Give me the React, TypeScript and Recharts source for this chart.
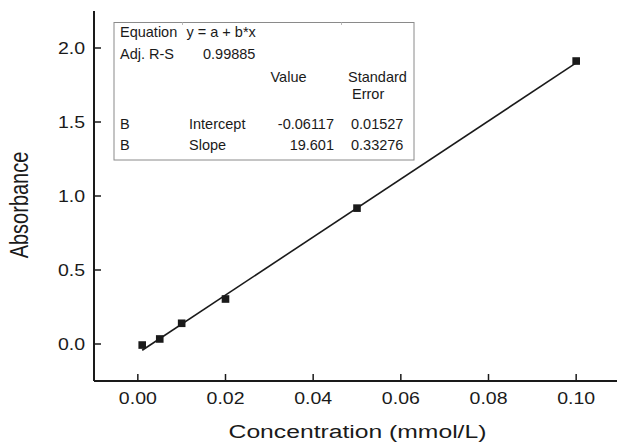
import React from 'react';
import { ComposedChart, Scatter, Line, XAxis, YAxis, ZAxis, Customized } from 'recharts';

// ---- data ----
const concentration = [0.001, 0.005, 0.01, 0.02, 0.05, 0.1];
const absorbance = [-0.007, 0.034, 0.14, 0.304, 0.918, 1.912];
const fitX = [0.001, 0.1];
const fitY = [-0.042, 1.899];
const xTicks = [0, 0.02, 0.04, 0.06, 0.08, 0.1];
const yTicks = [0, 0.5, 1.0, 1.5, 2.0];
const xDomain = [-0.01, 0.11];
const yDomain = [-0.25, 2.25];

const xTitle = 'Concentration (mmol/L)';
const yTitle = 'Absorbance';
const equationLabel = 'Equation';
const equationText = 'y = a + b*x';
const adjLabel = 'Adj. R-S';
const adjValue = '0.99885';
const valueHeader = 'Value';
const errorHeader = ['Standard', 'Error'];
const paramGroup = ['B', 'B'];
const paramNames = ['Intercept', 'Slope'];
const paramValues = ['-0.06117', '19.601'];
const paramErrors = ['0.01527', '0.33276'];

const points = concentration.map((x, i) => ({ x, y: absorbance[i] }));
const fitLine = fitX.map((x, i) => ({ x, y: fitY[i] }));

const FONT = '"Liberation Sans", Arial, Helvetica, sans-serif';
const INK = '#1a1a1a';
const STRETCH = 1.22;

const XTick = (props: any) => {
  const { x, y, payload } = props;
  return (
    <g transform={`translate(${x},${y + 22.7}) scale(${STRETCH},1)`}>
      <text x={0} y={0} textAnchor="middle" fontSize={16} fill={INK} fontFamily={FONT}>
        {Number(payload.value).toFixed(2)}
      </text>
    </g>
  );
};

const YTick = (props: any) => {
  const { x, y, payload } = props;
  return (
    <g transform={`translate(${x - 9},${y + 5.8}) scale(${STRETCH},1)`}>
      <text x={0} y={0} textAnchor="end" fontSize={16} fill={INK} fontFamily={FONT}>
        {Number(payload.value).toFixed(1)}
      </text>
    </g>
  );
};

const Annotations = () => {
  const t = { fontSize: 14.5, fill: INK, fontFamily: FONT } as any;
  return (
    <g>
      {/* axis titles */}
      <g transform={`translate(357.5,438) scale(1.3,1)`}>
        <text x={0} y={0} textAnchor="middle" fontSize={19} fill={INK} fontFamily={FONT}>{xTitle}</text>
      </g>
      <g transform={`translate(28,205) scale(1.25,1) rotate(-90)`}>
        <text x={0} y={0} textAnchor="middle" fontSize={20} fill={INK} fontFamily={FONT}>{yTitle}</text>
      </g>
      {/* fit results table */}
      <rect x={114} y={22.5} width={300} height={137.5} fill="#fff" stroke="#8a8a8a" strokeWidth={1} />
      <line x1={182.5} y1={22.5} x2={182.5} y2={25} stroke="#bbb" strokeWidth={1} />
      <line x1={341.5} y1={22.5} x2={341.5} y2={25} stroke="#bbb" strokeWidth={1} />
      <text x={120} y={37} {...t}>{equationLabel}</text>
      <text x={186.5} y={37} {...t}>{equationText}</text>
      <text x={120} y={59} {...t}>{adjLabel}</text>
      <text x={203} y={59} {...t}>{adjValue}</text>
      <text x={270.5} y={82} {...t}>{valueHeader}</text>
      <text x={348} y={82} {...t}>{errorHeader[0]}</text>
      <text x={352} y={98.5} {...t}>{errorHeader[1]}</text>
      {paramNames.map((n, i) => (
        <g key={n}>
          <text x={120} y={129 + i * 21} {...t}>{paramGroup[i]}</text>
          <text x={189} y={129 + i * 21} {...t}>{n}</text>
          <text x={334} y={129 + i * 21} textAnchor="end" {...t}>{paramValues[i]}</text>
          <text x={351} y={129 + i * 21} {...t}>{paramErrors[i]}</text>
        </g>
      ))}
    </g>
  );
};

export default function App() {
  return (
    <div style={{ position: 'fixed', left: 0, top: 0, width: 617, height: 442, overflow: 'hidden', background: '#fff' }}>
      <ComposedChart width={640} height={442} margin={{ top: 11, right: 20, bottom: 0, left: 0 }}>
        <XAxis
          xAxisId="top"
          orientation="top"
          type="number"
          dataKey="x"
          domain={xDomain}
          allowDataOverflow
          height={0}
          tick={false}
          tickLine={false}
          axisLine={{ stroke: INK, strokeWidth: 2 }}
        />
        <XAxis
          type="number"
          dataKey="x"
          domain={xDomain}
          ticks={xTicks}
          allowDataOverflow
          height={61}
          tickSize={-7}
          tickMargin={7}
          tick={<XTick />}
          tickLine={{ stroke: INK, strokeWidth: 1.5 }}
          axisLine={{ stroke: INK, strokeWidth: 2 }}
        />
        <YAxis
          type="number"
          dataKey="y"
          domain={yDomain}
          ticks={yTicks}
          allowDataOverflow
          width={94}
          tickSize={-7}
          tickMargin={7}
          tick={<YTick />}
          tickLine={{ stroke: INK, strokeWidth: 1.5 }}
          axisLine={{ stroke: INK, strokeWidth: 2 }}
        />
        <ZAxis range={[58, 58]} />
        <Customized component={Annotations} />
        <Line
          data={fitLine}
          dataKey="y"
          type="linear"
          stroke={INK}
          strokeWidth={1.6}
          dot={false}
          activeDot={false}
          isAnimationActive={false}
        />
        <Scatter data={points} dataKey="y" shape="square" fill={INK} isAnimationActive={false} />
      </ComposedChart>
    </div>
  );
}
